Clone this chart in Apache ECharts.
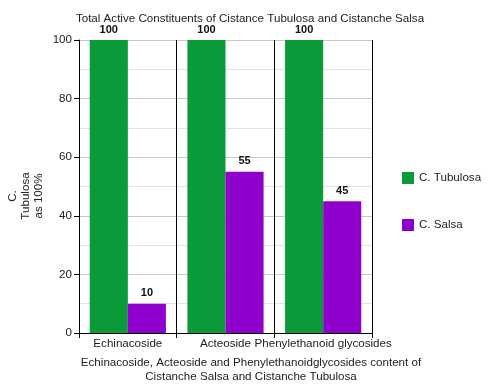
<!DOCTYPE html>
<html><head><meta charset="utf-8">
<script src="https://cdn.jsdelivr.net/npm/echarts@6/dist/echarts.min.js"></script>
<style>html,body{margin:0;padding:0;background:#fff}#c{width:500px;height:386px}</style>
</head><body><div id="c"></div>
<script>
var categories = ['Echinacoside', 'Acteoside', 'Phenylethanoid glycosides'];
var tubulosa = [100, 100, 100];
var salsa = [10, 55, 45];
var seriesNames = ['C. Tubulosa', 'C. Salsa'];
var yTicks = [0, 20, 40, 60, 80, 100];

var FONT = '"Liberation Sans", Arial, sans-serif';
var FS = 11.6;
var chart = echarts.init(document.getElementById('c'));
var labelStyle = {show: true, position: 'top', distance: 5, fontFamily: FONT, fontSize: 11, fontWeight: 'bold', color: '#111'};
chart.setOption({
  animation: false,
  title: [
    {text: 'Total Active Constituents of Cistance Tubulosa and Cistanche Salsa', left: 'center', top: 8,
     textStyle: {fontFamily: FONT, fontSize: FS, fontWeight: 'normal', color: '#222'}}
  ],
  graphic: [{
    type: 'text', x: 26, y: 196, rotation: Math.PI / 2,
    style: {text: 'C.\nTubulosa\nas 100%', fontFamily: FONT, fontSize: FS, fill: '#222', align: 'center', verticalAlign: 'middle', lineHeight: 13}
  }, {
    type: 'text', x: 251, y: 370,
    style: {text: 'Echinacoside, Acteoside and Phenylethanoidglycosides content of\nCistanche Salsa and Cistanche Tubulosa',
      fontFamily: FONT, fontSize: FS, fill: '#222', align: 'center', verticalAlign: 'middle', lineHeight: 14}
  }],
  legend: {
    orient: 'vertical', left: 397, top: 167, itemWidth: 12, itemHeight: 12, itemGap: 35,
    icon: 'rect', textStyle: {fontFamily: FONT, fontSize: FS, color: '#222'},
    data: seriesNames
  },
  grid: {left: 79, right: 128, top: 40, bottom: 53},
  xAxis: {
    type: 'category', data: categories,
    axisLine: {lineStyle: {color: '#000'}},
    axisTick: {show: true, length: 5, interval: 0, lineStyle: {color: '#000'}},
    axisLabel: {fontFamily: FONT, fontSize: FS, color: '#222', margin: 5, interval: 0},
    splitLine: {show: true, interval: 0, lineStyle: {color: '#000', width: 1}}
  },
  yAxis: {
    type: 'value', min: 0, max: 100, interval: 20,
    axisLine: {show: true, lineStyle: {color: '#000'}},
    axisTick: {show: true, length: 5, lineStyle: {color: '#000'}},
    axisLabel: {fontFamily: FONT, fontSize: FS, color: '#222', margin: 7},
    splitLine: {show: true, lineStyle: {color: '#c8c8c8'}},
    minorTick: {show: false, splitNumber: 2},
    minorSplitLine: {show: true, lineStyle: {color: '#e2e2e2'}}
  },
  series: [
    {name: seriesNames[0], type: 'bar', data: tubulosa, barGap: '0%', barCategoryGap: '22%',
     itemStyle: {color: '#0a9a3a'}, label: labelStyle},
    {name: seriesNames[1], type: 'bar', data: salsa,
     itemStyle: {color: '#9000cc'}, label: labelStyle}
  ]
});
</script></body></html>
